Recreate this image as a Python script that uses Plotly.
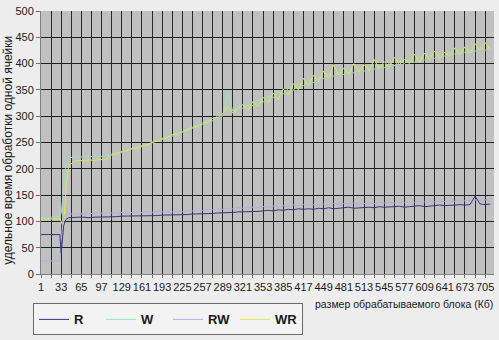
import plotly.graph_objects as go

# category positions (block size, Kb)
X_EARLY = [1, 9, 17, 25, 31, 33, 35, 37, 39, 41, 45, 53, 61, 69, 77, 85, 93, 101, 105]
X_LATE = list(range(113, 720, 8))

TICK_LABELS = [1, 33, 65, 97, 129, 161, 193, 225, 257, 289, 321, 353, 385, 417,
               449, 481, 513, 545, 577, 609, 641, 673, 705]

R_EARLY = [75, 75, 75, 75, 75, 40, 70, 92, 100, 104, 107, 108, 108, 108, 107, 108, 108, 108, 109]
R_LATE = [109, 109, 110, 110, 110, 111, 111, 111, 110, 111,
          112, 112, 112, 113, 113, 113, 114, 114, 115, 115,
          115, 116, 116, 117, 117, 118, 118, 118, 119, 119,
          120, 121, 120, 122, 121, 123, 122, 124, 123, 124,
          123, 125, 124, 126, 124, 125, 125, 127, 125, 126,
          126, 127, 126, 128, 127, 127, 128, 129, 127, 128,
          129, 130, 128, 129, 130, 131, 130, 130, 131, 132,
          131, 132, 148, 133, 132, 133]

W_EARLY = [107, 107, 108, 109, 110, 115, 140, 170, 195, 212, 220, 223, 221, 224, 222, 225, 223, 224, 225]
W_LATE = [228, 231, 231, 236, 237, 241, 242, 247, 249, 254,
          256, 261, 262, 268, 269, 276, 277, 283, 284, 293,
          291, 301, 300, 345, 309, 318, 315, 322, 320, 330,
          326, 338, 335, 346, 342, 353, 349, 362, 358, 369,
          364, 375, 371, 381, 376, 384, 379, 388, 382, 391,
          385, 394, 389, 397, 392, 401, 396, 405, 400, 409,
          403, 412, 407, 416, 410, 419, 414, 423, 418, 427,
          421, 429, 423, 432, 425, 433]

RW_EARLY = [25, 25, 25, 25, 25, 60, 95, 108, 112, 114, 114, 115, 115, 114, 115, 115, 116, 115, 116]
RW_LATE = [116, 115, 117, 116, 117, 118, 117, 118, 117, 119,
           118, 119, 118, 120, 119, 121, 120, 122, 121, 123,
           122, 124, 123, 125, 124, 126, 125, 126, 127, 126,
           128, 127, 129, 128, 130, 129, 131, 130, 132, 131,
           132, 131, 133, 132, 134, 132, 134, 133, 135, 133,
           134, 135, 134, 136, 135, 136, 135, 137, 136, 137,
           136, 138, 137, 138, 137, 139, 138, 139, 138, 140,
           139, 140, 141, 140, 141, 140]

WR_EARLY = [104, 104, 105, 105, 106, 100, 93, 95, 130, 170, 205, 214, 216, 215, 217, 216, 218, 217, 219]
WR_LATE = [226, 229, 233, 234, 239, 239, 244, 245, 251, 252,
           258, 259, 265, 266, 271, 273, 279, 280, 287, 288,
           296, 297, 305, 318, 306, 314, 322, 312, 328, 318,
           336, 326, 344, 332, 352, 340, 362, 350, 372, 358,
           378, 366, 386, 372, 398, 378, 392, 380, 400, 384,
           398, 386, 408, 390, 404, 393, 412, 398, 408, 400,
           418, 403, 420, 408, 424, 410, 422, 414, 430, 417,
           432, 420, 438, 424, 440, 426]

X_ALL = X_EARLY + X_LATE

# (name, values, colour, legend rank); listed in drawing order
series = [
    ("W", W_EARLY + W_LATE, "#92e8b8", 2),
    ("WR", WR_EARLY + WR_LATE, "#e4e45a", 4),
    ("RW", RW_EARLY + RW_LATE, "#b4aee0", 3),
    ("R", R_EARLY + R_LATE, "#35357e", 1),
]

fig = go.Figure()
for name, ys, col, rank in series:
    fig.add_trace(go.Scatter(x=X_ALL, y=ys, mode="lines", name=name,
                             legendrank=rank,
                             line=dict(color=col, width=1)))

L, R_, T, B = 41, 5, 5, 49
W_, H_ = 499, 340
pw = W_ - L - R_
ph = H_ - T - B

def px_x(p):
    return (p - L) / pw

def px_y(p):
    return (H_ - B - p) / ph

fig.update_layout(
    width=W_, height=H_,
    margin=dict(l=L, r=R_, t=T, b=B, pad=0),
    paper_bgcolor="#ededed",
    plot_bgcolor="#c0c0c0",
    font=dict(family="Liberation Sans, Arial, sans-serif", color="#1a1a1a", size=11),
    showlegend=True,
    legend=dict(
        orientation="h", x=px_x(33), y=px_y(323), xanchor="left", yanchor="top",
        bgcolor="#f3f3f3", bordercolor="#6a6a6a", borderwidth=1,
        font=dict(size=13, weight="bold", color="#1a1a1a"),
        entrywidth=22, entrywidthmode="pixels",
    ),
    xaxis=dict(
        range=[1, 719], tickmode="array", tickvals=TICK_LABELS,
        ticktext=[str(v) for v in TICK_LABELS],
        showgrid=True, gridcolor="#2a2a2a", gridwidth=1,
        minor=dict(tick0=1, dtick=16, showgrid=True, gridcolor="#2a2a2a",
                   gridwidth=1, ticks="outside", ticklen=3, tickcolor="#707070"),
        ticks="outside", ticklen=3, tickcolor="#707070",
        showline=True, linecolor="#808080", zeroline=False,
        tickfont=dict(size=11), tickangle=0,
    ),
    yaxis=dict(
        range=[0, 500], dtick=50, tick0=0,
        showgrid=True, gridcolor="#1e1e1e", gridwidth=1,
        ticks="outside", ticklen=4, tickcolor="#707070",
        showline=True, linecolor="#808080", zeroline=False,
        tickfont=dict(size=11), ticklabeloverflow="allow",
    ),
    annotations=[
        dict(text="удельное время обработки одной ячейки", textangle=-90,
             xref="paper", yref="paper", x=px_x(8), y=px_y(157),
             xanchor="center", yanchor="middle", showarrow=False,
             font=dict(size=12, color="#1a1a1a")),
        dict(text="размер обрабатываемого блока (Кб)",
             xref="paper", yref="paper", x=px_x(313), y=px_y(324),
             xanchor="left", yanchor="middle", showarrow=False,
             font=dict(size=10.5, color="#1a1a1a")),
    ],
)

fig.write_html("out.html")
